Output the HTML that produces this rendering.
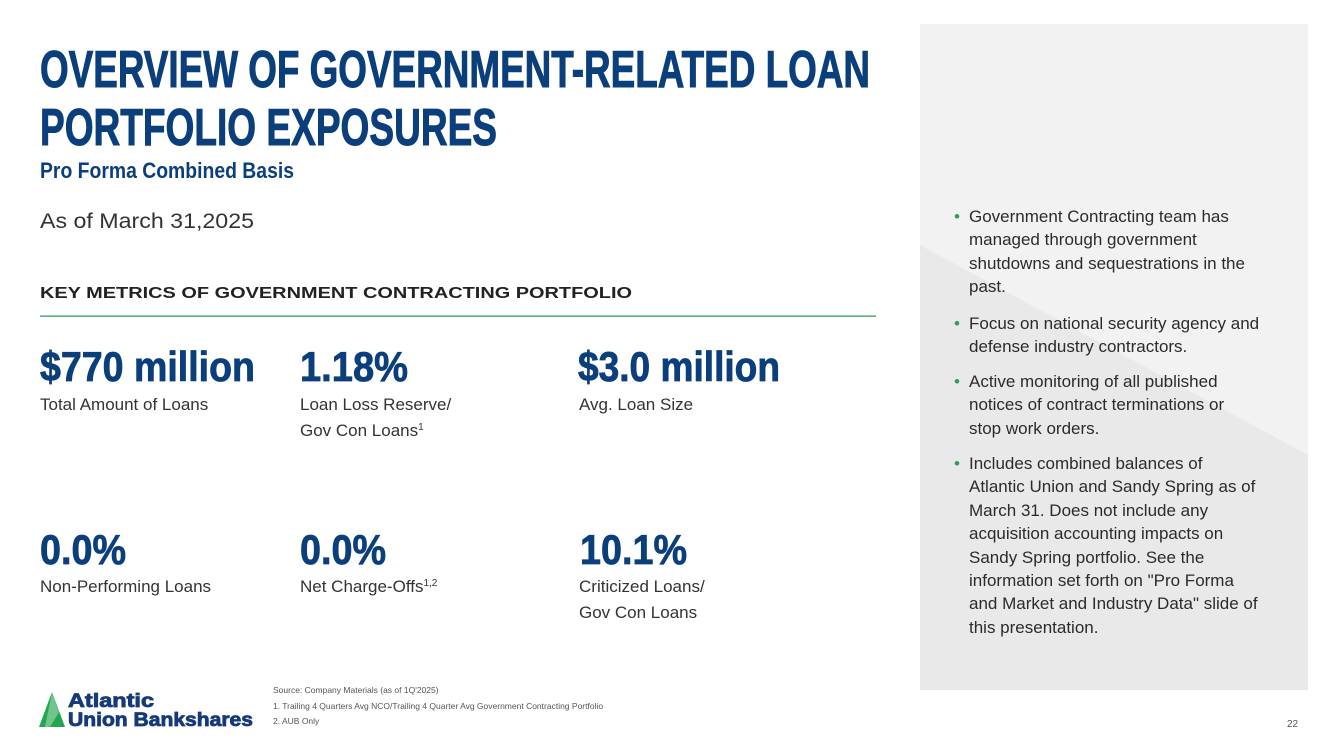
<!DOCTYPE html>
<html><head><meta charset="utf-8"><style>
body{margin:0;width:1333px;height:749px;background:#fff;position:relative;overflow:hidden;font-family:"Liberation Sans",sans-serif}
.a{position:absolute}
.lbl{font-size:17px;color:#333;line-height:26px}
sup{font-size:10px;line-height:0;vertical-align:6px}
.bul{position:absolute;left:969px;white-space:nowrap;font-size:17px;line-height:23.4px;color:#2b2b2b}
.bul:before{content:"•";position:absolute;left:-15px;color:#2e9e5a}
.fn{position:absolute;left:273px;font-size:8.5px;color:#555}
</style></head><body>
<div class="a" style="left:920px;top:24px;width:388px;height:666px;overflow:hidden;background:#e9e9e9">
<svg width="388" height="666"><polygon points="0,0 388,0 388,431 0,221" fill="#f2f2f2"/></svg></div>
<svg class="a" style="left:0;top:0" width="900" height="320">
<text x="40" y="87" font-family="Liberation Sans" font-weight="bold" font-size="52" fill="#0b3f7c" stroke="#0b3f7c" stroke-width="1" textLength="830" lengthAdjust="spacingAndGlyphs">OVERVIEW OF GOVERNMENT-RELATED LOAN</text>
<text x="40" y="145" font-family="Liberation Sans" font-weight="bold" font-size="52" fill="#0b3f7c" stroke="#0b3f7c" stroke-width="1" textLength="457" lengthAdjust="spacingAndGlyphs">PORTFOLIO EXPOSURES</text>
<text x="40" y="178" font-family="Liberation Sans" font-weight="bold" font-size="22" fill="#0b3f7c" textLength="254" lengthAdjust="spacingAndGlyphs">Pro Forma Combined Basis</text>
<text x="40" y="228" font-family="Liberation Sans" font-size="21" fill="#333" textLength="214" lengthAdjust="spacingAndGlyphs">As of March 31,2025</text>
<text x="40" y="298" font-family="Liberation Sans" font-weight="bold" font-size="16" fill="#222" textLength="592" lengthAdjust="spacingAndGlyphs">KEY METRICS OF GOVERNMENT CONTRACTING PORTFOLIO</text>
<rect x="40" y="315.5" width="836" height="1.3" fill="#2e9e5a"/>
</svg>
<svg class="a" style="left:0;top:330px" width="900" height="260">
<g font-family="Liberation Sans" font-weight="bold" font-size="42" fill="#0b3f7c" stroke="#0b3f7c" stroke-width="0.8">
<text x="40" y="51" textLength="215" lengthAdjust="spacingAndGlyphs">$770 million</text>
<text x="300" y="51" textLength="108" lengthAdjust="spacingAndGlyphs">1.18%</text>
<text x="578" y="51" textLength="202" lengthAdjust="spacingAndGlyphs">$3.0 million</text>
<text x="40" y="234" textLength="86" lengthAdjust="spacingAndGlyphs">0.0%</text>
<text x="300" y="234" textLength="86" lengthAdjust="spacingAndGlyphs">0.0%</text>
<text x="580" y="234" textLength="107" lengthAdjust="spacingAndGlyphs">10.1%</text>
</g></svg>
<div class="a lbl" style="left:40px;top:392px">Total Amount of Loans</div>
<div class="a lbl" style="left:300px;top:392px">Loan Loss Reserve/<br>Gov Con Loans<sup>1</sup></div>
<div class="a lbl" style="left:579px;top:392px">Avg. Loan Size</div>
<div class="a lbl" style="left:40px;top:574px">Non-Performing Loans</div>
<div class="a lbl" style="left:300px;top:574px">Net Charge-Offs<sup>1,2</sup></div>
<div class="a lbl" style="left:579px;top:574px">Criticized Loans/<br>Gov Con Loans</div>
<div class="bul" style="top:205px">Government Contracting team has<br>managed through government<br>shutdowns and sequestrations in the<br>past.</div>
<div class="bul" style="top:312px">Focus on national security agency and<br>defense industry contractors.</div>
<div class="bul" style="top:370px">Active monitoring of all published<br>notices of contract terminations or<br>stop work orders.</div>
<div class="bul" style="top:452px">Includes combined balances of<br>Atlantic Union and Sandy Spring as of<br>March 31. Does not include any<br>acquisition accounting impacts on<br>Sandy Spring portfolio. See the<br>information set forth on "Pro Forma<br>and Market and Industry Data" slide of<br>this presentation.</div>
<svg class="a" style="left:38px;top:688px" width="220" height="44">
<polygon points="14,4 27,39 1,39" fill="#22a650"/><polygon points="14,4 21,24 12,39 7,39" fill="#fff" opacity="0.35"/>
<text x="30" y="19" font-family="Liberation Sans" font-weight="bold" font-size="19" fill="#163a78" stroke="#163a78" stroke-width="0.8" textLength="86" lengthAdjust="spacingAndGlyphs">Atlantic</text>
<text x="30" y="38" font-family="Liberation Sans" font-weight="bold" font-size="19" fill="#163a78" stroke="#163a78" stroke-width="0.8" textLength="185" lengthAdjust="spacingAndGlyphs">Union Bankshares</text>
</svg>
<div class="fn" style="top:685px">Source: Company Materials (as of 1Q'2025)</div>
<div class="fn" style="top:701px">1. Trailing 4 Quarters Avg NCO/Trailing 4 Quarter Avg Government Contracting Portfolio</div>
<div class="fn" style="top:716px">2. AUB Only</div>
<div class="a" style="left:1287px;top:719px;font-size:10px;color:#555">22</div>
</body></html>
